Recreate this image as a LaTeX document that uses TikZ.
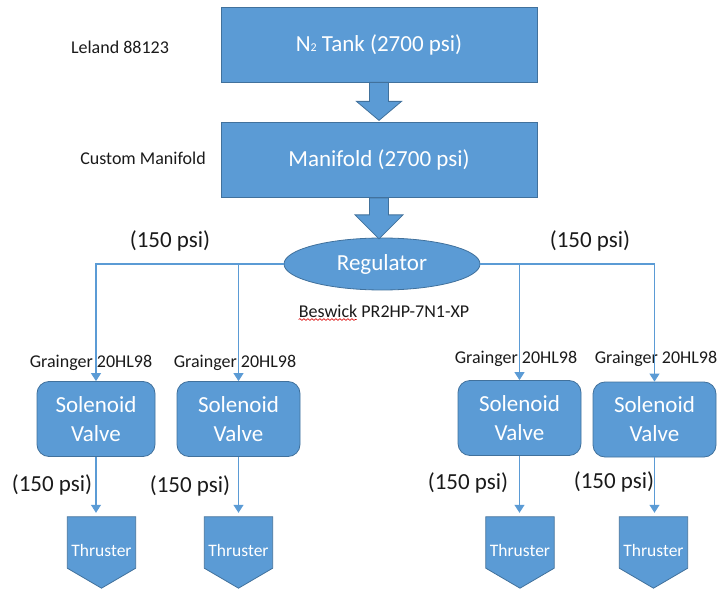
\documentclass[tikz,border=0pt]{standalone}
\usepackage{fontspec}
\setmainfont{Carlito}
\usetikzlibrary{shapes.geometric,arrows.meta,calc,decorations.pathmorphing}
\definecolor{fillblue}{HTML}{5B9BD5}
\definecolor{edgeblue}{HTML}{41719C}
\definecolor{lineblue}{HTML}{5B9BD5}
\definecolor{labelblack}{HTML}{1A1A1A}
\begin{document}
\begin{tikzpicture}[x=1pt,y=-1pt,
  bigbox/.style={rectangle,fill=fillblue,draw=edgeblue,line width=0.8pt,text=white,
    font=\fontsize{23}{27}\selectfont,inner sep=0pt,minimum width=316pt,minimum height=75pt},
  valvebox/.style={rectangle,rounded corners=12pt,fill=fillblue,draw=edgeblue,line width=0.8pt,
    text=white,font=\fontsize{23}{29}\selectfont,align=center,inner sep=0pt,minimum height=75pt},
  regshape/.style={ellipse,fill=fillblue,draw=edgeblue,line width=0.8pt,text=white,
    font=\fontsize{23}{27}\selectfont,inner sep=0pt,minimum width=196pt,minimum height=52pt},
  thrframe/.style={rectangle,inner sep=0pt,minimum width=68pt,minimum height=71pt},
  thrfill/.style={fill=fillblue,draw=edgeblue,line width=0.8pt},
  thrtext/.style={text=white,font=\fontsize{17.5}{20}\selectfont,inner sep=0pt},
  partlabel/.style={text=labelblack,font=\fontsize{18}{21}\selectfont,inner sep=0pt},
  psilabel/.style={text=labelblack,font=\fontsize{23}{27}\selectfont,inner sep=0pt},
  blockarrow/.style={fill=fillblue,draw=edgeblue,line width=0.8pt},
  conn/.style={draw=lineblue,line width=1.1pt},
  connarrow/.style={conn,-{Triangle[width=10pt,length=8pt]}}
]
\useasboundingbox (0,0) rectangle (721,591);

% main column
\node[bigbox] (tank) at (379,44.5) {N{\fontsize{12}{12}\selectfont\raisebox{-0.5pt}{2}} Tank (2700 psi)};
\node[bigbox] (manifold) at (379,160) {Manifold (2700 psi)};
\node[regshape] (reg) at (382,264) {Regulator};

\node[partlabel] (leland) at (120,47) {Leland 88123};
\node[partlabel] (custom) at (143,158) {Custom Manifold};
\node[partlabel] (beswick) at (384,311) {Beswick PR2HP-7N1-XP};
\draw[red!85!black,line width=0.6pt,decorate,decoration={snake,amplitude=0.9pt,segment length=4pt}]
  ($(beswick.south west)+(0,2)$) -- ($(beswick.south west)+(58,2)$);

% block arrows
\filldraw[blockarrow]
  ($(tank.south)+(-9.5,0)$) -- ($(tank.south)+(-9.5,19)$) -- ($(tank.south)+(-22.5,19)$) --
  ($(tank.south)+(0,38)$) -- ($(tank.south)+(22.5,19)$) -- ($(tank.south)+(9.5,19)$) --
  ($(tank.south)+(9.5,0)$) -- cycle;
\filldraw[blockarrow]
  ($(manifold.south)+(-9.5,0)$) -- ($(manifold.south)+(-9.5,17)$) -- ($(manifold.south)+(-24,17)$) --
  ($(manifold.south)+(0,41)$) -- ($(manifold.south)+(24,17)$) -- ($(manifold.south)+(9.5,17)$) --
  ($(manifold.south)+(9.5,0)$) -- cycle;

% solenoid valves
\node[valvebox,minimum width=118pt] (sol1) at (96,419) {Solenoid\\Valve};
\node[valvebox,minimum width=123pt] (sol2) at (238.5,419) {Solenoid\\Valve};
\node[valvebox,minimum width=123pt] (sol3) at (519.5,418) {Solenoid\\Valve};
\node[valvebox,minimum width=123pt] (sol4) at (654.5,419.5) {Solenoid\\Valve};

\node[partlabel] (g1) at (91,363) {Grainger 20HL98};
\node[partlabel] (g2) at (235,363) {Grainger 20HL98};
\node[partlabel] (g3) at (516,359) {Grainger 20HL98};
\node[partlabel] (g4) at (656,359) {Grainger 20HL98};

% thrusters
\foreach \n/\x in {1/101.5,2/238.5,3/520,4/653.5}{
  \node[thrframe] (t\n) at (\x,552.5) {};
  \filldraw[thrfill] (t\n.north west) -- (t\n.north east) -- ($(t\n.south east)+(0,-20)$) --
    (t\n.south) -- ($(t\n.south west)+(0,-20)$) -- cycle;
  \node[thrtext] (tl\n) at ($(t\n.center)+(0,-2)$) {Thruster};
}

% regulator to valves
\draw[connarrow] (reg.west) -| (sol1.north);
\draw[connarrow] (reg.west) -| (sol2.north);
\draw[connarrow] (reg.east) -| (sol3.north);
\draw[connarrow] (reg.east) -| (sol4.north);

% valves to thrusters
\foreach \n in {1,2,3,4}{
  \draw[connarrow] (sol\n.south) -- ($(sol\n.south |- t\n.north)+(0,-4)$);
}

% pressure labels
\node[psilabel] (p0l) at (170,241) {(150 psi)};
\node[psilabel] (p0r) at (590,241) {(150 psi)};
\node[psilabel] (p1) at (52,485) {(150 psi)};
\node[psilabel] (p2) at (190,486) {(150 psi)};
\node[psilabel] (p3) at (468,483) {(150 psi)};
\node[psilabel] (p4) at (614,482) {(150 psi)};
\end{tikzpicture}
\end{document}
